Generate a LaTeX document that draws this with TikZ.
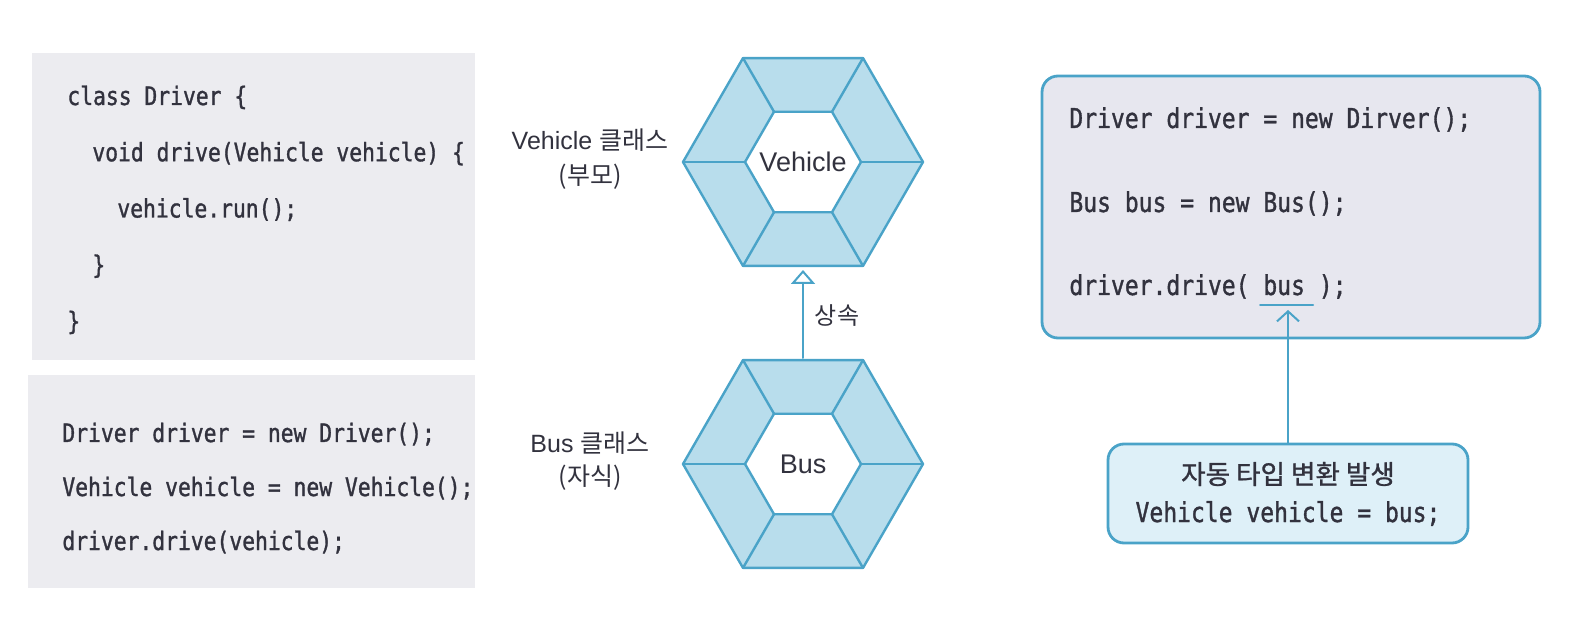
\documentclass[tikz,border=0pt]{standalone}
\usepackage{fontspec}
\setmainfont{Liberation Sans}
\newfontfamily\krfont{Noto Sans CJK KR}
\newfontfamily\krbold[FakeBold=1]{Noto Sans CJK KR}
\newfontfamily\codefont[FakeStretch=0.84,FakeBold=1.2]{DejaVu Sans Mono}
\usetikzlibrary{arrows.meta}
\definecolor{boxgray}{RGB}{236,236,240}
\definecolor{callgray}{RGB}{231,231,239}
\definecolor{hexblue}{RGB}{74,163,200}
\definecolor{hexfill}{RGB}{184,221,236}
\definecolor{castfill}{RGB}{222,240,248}
\definecolor{inktext}{RGB}{50,50,62}

\begin{document}
\begin{tikzpicture}[x=0.5pt,y=-0.5pt,line join=round,line cap=round]
			\tikzset{codebox/.style={fill=boxgray,inner sep=0pt,anchor=north west},
				codeline/.style={inner sep=0pt,text=inktext,font=\fontsize{12.7}{15}\codefont},
				bigcode/.style={inner sep=0pt,text=inktext,font=\fontsize{13.7}{16}\codefont},
				hexline/.style={draw=hexblue,line width=1.2pt},
				hexlabel/.style={inner sep=0pt,text=inktext,font=\fontsize{13.5}{16}\selectfont},
				sidelabel/.style={inner sep=0pt,anchor=base,text=inktext,font=\fontsize{12.5}{15}\selectfont},
				roundbox/.style={draw=hexblue,line width=1.4pt,rounded corners=8pt,inner sep=0pt}}
			\useasboundingbox (0,0) rectangle (1588,640);
			% left: class and call code
			\node[codebox,minimum width=221.5pt,minimum height=153.5pt] (classbox) at (32,53) {};
			\node[codebox,minimum width=223.5pt,minimum height=106.5pt] (mainbox) at (28,375) {};
			\foreach \n/\ind/\t in {0/0/{class Driver \{},1/1/{void drive(Vehicle vehicle) \{},2/2/{vehicle.run();},3/1/{\}},4/0/{\}}}
			\node[codeline,anchor=base west] (cls\n) at (67+25*\ind,105+56.25*\n) {\t};
			\foreach \n/\y/\t in {1/442/{Driver driver = new Driver();},2/496/{Vehicle vehicle = new Vehicle();},3/550/{driver.drive(vehicle);}}
			\node[codeline,anchor=base west] (main\n) at (62,\y) {\t};
			% middle: the two classes
			\foreach \cy/\nm/\txt in {162/veh/Vehicle,464/bus/Bus}{
				\begin{scope}[shift={(803,\cy)}]
					\fill[hexfill] (0:120) \foreach \a in {60,120,...,300}{ -- (\a:120)} -- cycle;
					\foreach \a in {0,60,...,300}
					\draw[hexline] (\a:58) -- (\a:120);
					\draw[hexline] (0:120) \foreach \a in {60,120,...,300}{ -- (\a:120)} -- cycle;
					\draw[hexline,fill=white] (0:58) \foreach \a in {60,120,...,300}{ -- (\a:58)} -- cycle;
				\end{scope}
				\node[hexlabel] (\nm) at (803,\cy) {\txt};
			}
			\coordinate (vehbot) at (803,266);
			\coordinate (bustop) at (803,358);
			\draw[hexblue,line width=1pt,-{Triangle[open,length=7pt,width=12pt]},shorten >=2pt] (bustop) -- (vehbot);
			\node[sidelabel,font=\fontsize{12}{14}\krfont] (inherit) at (837,325) {상속};
			\node[sidelabel] (vehcls) at (590,150) {Vehicle {\krfont 클래스}};
			\node[sidelabel,font=\fontsize{12.5}{15}\krfont] (vehrole) at (590,185) {(부모)};
			\node[sidelabel] (buscls) at (590,452) {Bus {\krfont 클래스}};
			\node[sidelabel,font=\fontsize{12.5}{15}\krfont] (busrole) at (590,485) {(자식)};
			% right: automatic cast
			\node[roundbox,fill=callgray,minimum width=249pt,minimum height=131pt] (callbox) at (1291,207) {};
			\foreach \n/\y/\t in {1/128/{Driver driver = new Dirver();},2/212/{Bus bus = new Bus();},3/295/{driver.drive( bus );}}
			\node[bigcode,anchor=base west] (call\n) at (1069,\y) {\t};
			\draw[hexblue,line width=1pt] (1260,305) -- (1313,305);
			\coordinate (busmark) at (1288,310);
			\node[roundbox,fill=castfill,minimum width=180pt,minimum height=49.5pt] (cast) at (1288,493.5) {};
			\node[inner sep=0pt,anchor=base,text=inktext,font=\fontsize{13.3}{15}\krbold] (castkr) at (1288,484) {자동 타입 변환 발생};
			\node[bigcode,anchor=base] (castcode) at (1288,522) {Vehicle vehicle = bus;};
			\draw[hexblue,line width=1pt,-{Straight Barb[length=5pt,width=11pt]}] (cast.north) -- (busmark);
		\end{tikzpicture}
\end{document}
